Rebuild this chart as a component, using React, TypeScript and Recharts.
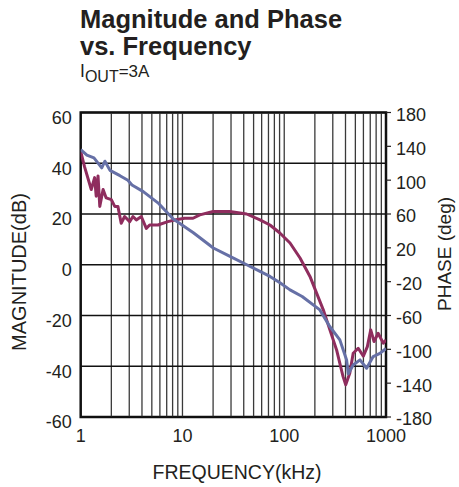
import React from "react";
import {
  ComposedChart,
  Line,
  XAxis,
  YAxis,
  ReferenceLine,
  ReferenceArea,
} from "recharts";

// Magnitude (dB) vs frequency (kHz)
const magFreq = [1, 1.15, 1.35, 1.61, 1.73, 1.94, 2.43, 2.91, 3.19, 4.12, 5.74, 8.12, 12.8, 20.1, 29.3, 42.8, 57.8, 72.4, 90.8, 114, 150, 224, 281, 352, 410, 426, 476, 555, 645, 748, 871, 1000];
const magDb = [45.4, 43.2, 42.1, 38.2, 40.8, 37.2, 35.1, 33.3, 31.4, 28.8, 24.4, 18.0, 12.6, 6.6, 3.3, 0, -2.6, -4.6, -7.1, -9.9, -12.5, -17.8, -24.4, -29.6, -37.5, -43, -39.5, -37.5, -40.8, -36.2, -34.9, -33];

// Phase (deg) vs frequency (kHz)
const phaseFreq = [1, 1.09, 1.27, 1.37, 1.42, 1.48, 1.54, 1.66, 1.78, 2.0, 2.16, 2.32, 2.5, 2.7, 3.03, 3.26, 3.52, 3.94, 4.41, 4.76, 5.74, 7.19, 8.37, 10.5, 12.7, 14.8, 20, 29.2, 42.7, 57.8, 72.4, 90.6, 114, 143, 179, 208, 242, 281, 327, 378, 402, 441, 476, 533, 599, 656, 708, 763, 837, 940, 1000];
const phaseDeg = [134, 116, 89, 103, 81, 105, 69, 89, 79, 77, 69, 69, 49, 57, 51, 57, 53, 57, 43, 47, 47, 51, 53, 55, 55, 59, 63, 63, 60, 53, 47, 37.5, 25.7, 8, -13.8, -33.5, -53.3, -77, -100.7, -132, -142, -128, -104.6, -98.7, -108, -96.8, -77, -90.8, -81, -92.7, -89];

const freqTicks = [1, 10, 100, 1000];
const freqGrid = [2, 3, 4, 5, 6, 7, 8, 9, 10, 20, 30, 40, 50, 60, 70, 80, 90, 100, 200, 300, 400, 500, 600, 700, 800, 900];
const magTicks = [-60, -40, -20, 0, 20, 40, 60];
const phaseTicks = [-180, -140, -100, -60, -20, 20, 60, 100, 140, 180];

const magData = magFreq.map((f, i) => ({ f, v: magDb[i] }));
const phaseData = phaseFreq.map((f, i) => ({ f, v: phaseDeg[i] }));

const FONT = "'Liberation Sans', Arial, Helvetica, sans-serif";
const TXT = "#231f20";
const BLUE = "#6670a6";
const MAGENTA = "#8f2d5e";

const LeftTick = (p: any) => (
  <text x={p.x} y={p.y + 5} dy="0.355em" textAnchor="end" fontSize={18} fontFamily={FONT} fill={TXT}>
    {p.payload.value}
  </text>
);
const RightTick = (p: any) => (
  <text x={p.x} y={p.y + 2} dy="0.355em" textAnchor="start" fontSize={18} fontFamily={FONT} fill={TXT}>
    {p.payload.value}
  </text>
);
const BottomTick = (p: any) => (
  <text x={p.x} y={p.y + 24.5} textAnchor="middle" fontSize={18} fontFamily={FONT} fill={TXT}>
    {p.payload.value}
  </text>
);

export default function App() {
  return (
    <div style={{ position: "absolute", left: 0, top: 0, width: 459, height: 487, background: "#fff" }}>
      <ComposedChart width={459} height={487} margin={{ top: 112.5, right: 0, bottom: 0, left: 0 }}>
        <XAxis
          dataKey="f"
          type="number"
          scale="log"
          domain={[1, 1000]}
          ticks={freqTicks}
          allowDataOverflow
          axisLine={false}
          tickLine={false}
          tickSize={0}
          tickMargin={0}
          height={70}
          tick={<BottomTick />}
          interval={0}
        />
        <YAxis
          yAxisId="mag"
          orientation="left"
          type="number"
          domain={[-60, 60]}
          ticks={magTicks}
          width={80.7}
          axisLine={false}
          tickLine={false}
          tickSize={0}
          tickMargin={9}
          tick={<LeftTick />}
          interval={0}
        />
        <YAxis
          yAxisId="phase"
          orientation="right"
          type="number"
          domain={[-180, 180]}
          ticks={phaseTicks}
          width={73}
          axisLine={false}
          tickLine={{ stroke: "#231f20", strokeWidth: 1.2 }}
          tickSize={5}
          tickMargin={5}
          tick={<RightTick />}
          interval={0}
        />
        {freqGrid.map((g) => (
          <ReferenceLine key={"v" + g} x={g} yAxisId="mag" stroke="#3a3a3a" strokeWidth={1.3} />
        ))}
        {magTicks.map((t) => (
          <ReferenceLine key={"h" + t} y={t} yAxisId="mag" stroke="#111" strokeWidth={1.5} />
        ))}
        <Line
          data={phaseData}
          dataKey="v"
          yAxisId="phase"
          type="linear"
          stroke={MAGENTA}
          strokeWidth={3}
          dot={false}
          isAnimationActive={false}
          strokeLinejoin="round"
        />
        <Line
          data={magData}
          dataKey="v"
          yAxisId="mag"
          type="linear"
          stroke={BLUE}
          strokeWidth={3}
          dot={false}
          isAnimationActive={false}
          strokeLinejoin="round"
        />
        <ReferenceArea
          x1={1}
          x2={1000}
          y1={-60}
          y2={60}
          yAxisId="mag"
          fill="none"
          fillOpacity={0}
          stroke="#111"
          strokeWidth={2.5}
          ifOverflow="visible"
        />
      </ComposedChart>
      <svg
        width={459}
        height={487}
        style={{ position: "absolute", left: 0, top: 0, pointerEvents: "none" }}
      >
        <text x={80} y={28} fontSize={25.5} fontWeight="bold" fontFamily={FONT} fill={TXT}>
          Magnitude and Phase
        </text>
        <text x={80} y={55} fontSize={25.5} fontWeight="bold" fontFamily={FONT} fill={TXT}>
          vs. Frequency
        </text>
        <text x={80} y={76.7} fontFamily={FONT} fill={TXT}>
          <tspan fontSize={17.5}>I</tspan>
          <tspan fontSize={16} dy={5}>OUT</tspan>
          <tspan fontSize={17} dy={-5}>=3A</tspan>
        </text>
        <text x={237} y={479} textAnchor="middle" fontSize={19.5} fontFamily={FONT} fill={TXT}>
          FREQUENCY(kHz)
        </text>
        <text
          x={0}
          y={0}
          transform="translate(26,272) rotate(-90)"
          textAnchor="middle"
          fontSize={20}
          fontFamily={FONT}
          fill={TXT}
        >
          MAGNITUDE(dB)
        </text>
        <text
          x={0}
          y={0}
          transform="translate(451,254) rotate(-90)"
          textAnchor="middle"
          fontSize={19}
          fontFamily={FONT}
          fill={TXT}
        >
          PHASE (deg)
        </text>
      </svg>
    </div>
  );
}
